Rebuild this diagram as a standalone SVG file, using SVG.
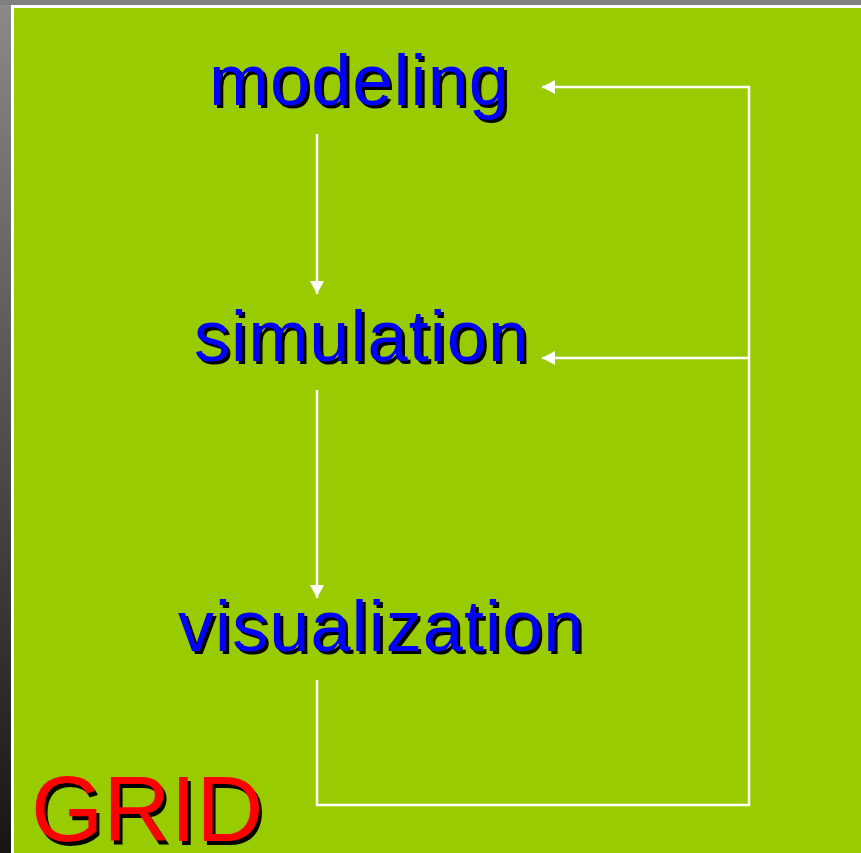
<svg xmlns="http://www.w3.org/2000/svg" width="861" height="853" viewBox="0 0 861 853">
<defs>
<linearGradient id="side" x1="0" y1="0" x2="0" y2="1">
<stop offset="0" stop-color="#8a8a8a"/>
<stop offset="1" stop-color="#161616"/>
</linearGradient>
<marker id="ah" markerWidth="14" markerHeight="14" refX="13" refY="7" orient="auto" markerUnits="userSpaceOnUse">
<path d="M0,0 L13,7 L0,14 Z" fill="#ffffff"/>
</marker>
<style>
.lbl{font-family:"Liberation Sans",Arial,sans-serif;font-size:72px;letter-spacing:1.1px}
.blue{fill:#0000ff}
.shadow{fill:#000000}
.grid{font-family:"Liberation Sans",Arial,sans-serif;font-size:93px}
.red{fill:#ff0000}
.conn{stroke:#ffffff;stroke-width:2.5;fill:none}
</style>
</defs>
<rect x="0" y="0" width="861" height="853" fill="url(#side)"/>
<rect x="0" y="0" width="861" height="5" fill="#808080"/>
<rect x="11" y="5" width="850" height="848" fill="#ffffff"/>
<rect x="14" y="8" width="847" height="845" fill="#99cc00"/>
<g id="connectors">
<line class="conn" x1="317" y1="134" x2="317" y2="294" marker-end="url(#ah)"/>
<line class="conn" x1="317" y1="390" x2="317" y2="598" marker-end="url(#ah)"/>
<polyline class="conn" points="317,680 317,805 749,805 749,87 542,87" marker-end="url(#ah)"/>
<line class="conn" x1="749" y1="358" x2="542" y2="358" marker-end="url(#ah)"/>
</g>
<g id="modeling">
<text class="lbl shadow" x="212" y="108">modeling</text>
<text class="lbl blue" x="209" y="105">modeling</text>
</g>
<g id="simulation">
<text class="lbl shadow" x="197" y="364">simulation</text>
<text class="lbl blue" x="194" y="361">simulation</text>
</g>
<g id="visualization">
<text class="lbl shadow" x="181" y="654">visualization</text>
<text class="lbl blue" x="178" y="651">visualization</text>
</g>
<g id="grid">
<text class="grid shadow" x="34" y="845">GRID</text>
<text class="grid red" x="31" y="841">GRID</text>
</g>
</svg>
